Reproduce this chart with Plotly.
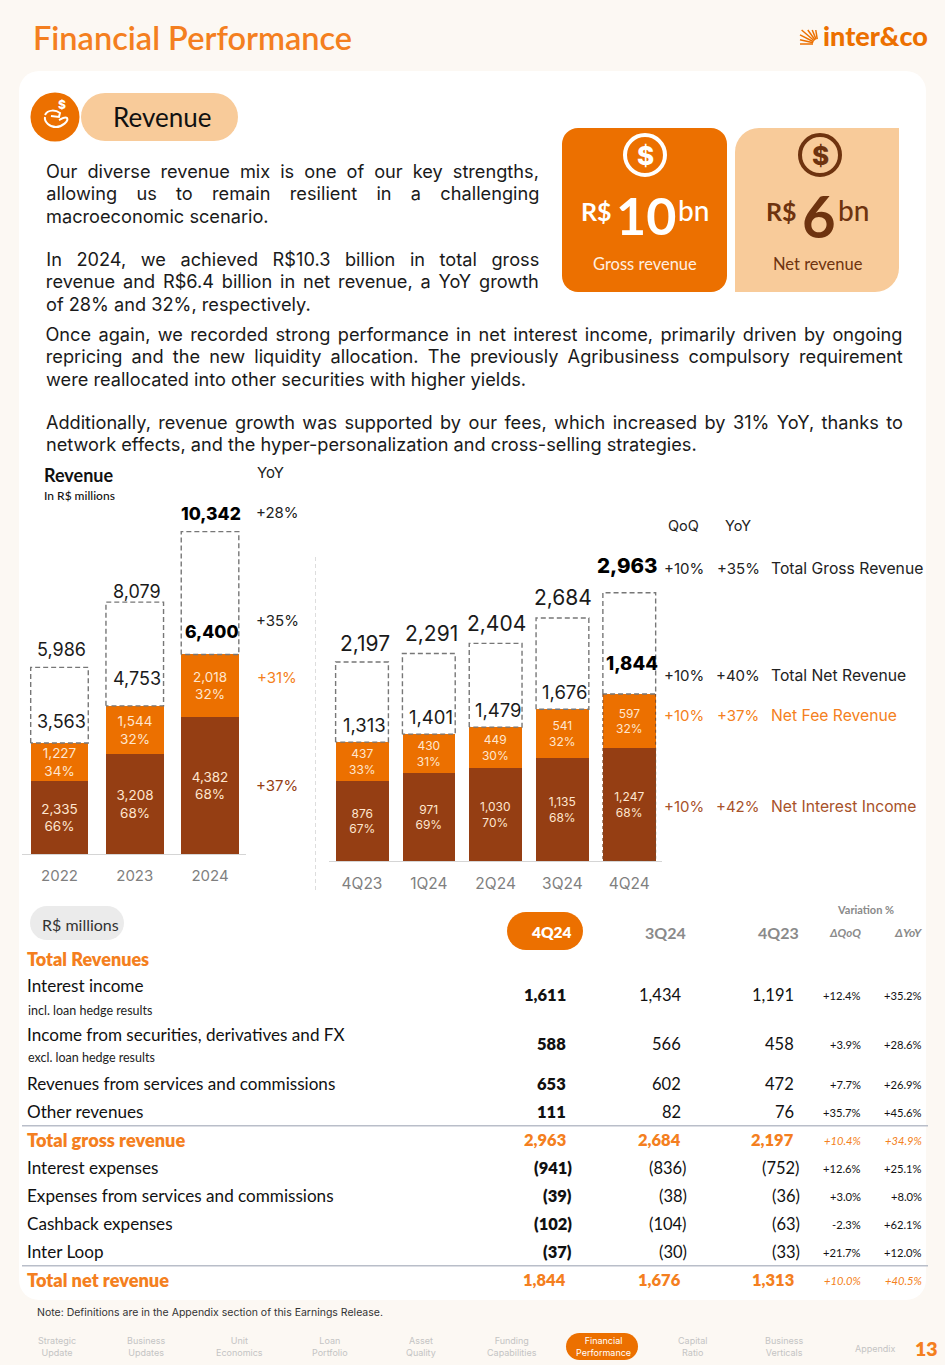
import math
import json
import plotly.graph_objects as go

W, H = 945, 1365
BG = "#FCF8F3"
ORANGE = "#EC7000"
ORANGE_TXT = "#F47F20"
BROWN = "#953E13"
PEACH = "#F8CB9A"
DARK = "#111111"
GREY = "#7F7F7F"
INNER = "#FFE6CF"
SANS = "Inter"
ROUND = "Lato"

# ---- annual chart data
years = ["2022", "2023", "2024"]
y_interest = [2335, 3208, 4382]
y_fee = [1227, 1544, 2018]
y_net = [3563, 4753, 6400]
y_gross = [5986, 8079, 10342]
y_interest_pct = ["66%", "68%", "68%"]
y_fee_pct = ["34%", "32%", "32%"]
y_yoy = ["+28%", "+35%", "+31%", "+37%"]

# ---- quarterly chart data
quarters = ["4Q23", "1Q24", "2Q24", "3Q24", "4Q24"]
q_interest = [876, 971, 1030, 1135, 1247]
q_fee = [437, 430, 449, 541, 597]
q_net = [1313, 1401, 1479, 1676, 1844]
q_gross = [2197, 2291, 2404, 2684, 2963]
q_interest_pct = ["67%", "69%", "70%", "68%", "68%"]
q_fee_pct = ["33%", "31%", "30%", "32%", "32%"]
q_names = ["Total Gross Revenue", "Total Net Revenue", "Net Fee Revenue", "Net Interest Income"]
q_qoq = ["+10%", "+10%", "+10%", "+10%"]
q_yoy = ["+35%", "+40%", "+37%", "+42%"]

# ---- table data
t_labels = ["Interest income", "Income from securities, derivatives and FX",
            "Revenues from services and commissions", "Other revenues", "Total gross revenue",
            "Interest expenses", "Expenses from services and commissions", "Cashback expenses",
            "Inter Loop", "Total net revenue"]
t_4q24 = ["1,611", "588", "653", "111", "2,963", "(941)", "(39)", "(102)", "(37)", "1,844"]
t_3q24 = ["1,434", "566", "602", "82", "2,684", "(836)", "(38)", "(104)", "(30)", "1,676"]
t_4q23 = ["1,191", "458", "472", "76", "2,197", "(752)", "(36)", "(63)", "(33)", "1,313"]
t_qoq = ["+12.4%", "+3.9%", "+7.7%", "+35.7%", "+10.4%", "+12.6%", "+3.0%", "-2.3%", "+21.7%", "+10.0%"]
t_yoy = ["+35.2%", "+28.6%", "+26.9%", "+45.6%", "+34.9%", "+25.1%", "+8.0%", "+62.1%", "+12.0%", "+40.5%"]

nav_items = ["Strategic<br>Update", "Business<br>Updates", "Unit<br>Economics", "Loan<br>Portfolio",
             "Asset<br>Quality", "Funding<br>Capabilities", "Financial<br>Performance",
             "Capital<br>Ratio", "Business<br>Verticals"]

intro_lines = [
    ("Our diverse revenue mix is one of our key strengths,", True),
    ("allowing us to remain resilient in a challenging", True),
    ("macroeconomic scenario.", False),
    ("In 2024, we achieved R$10.3 billion in total gross", True),
    ("revenue and R$6.4 billion in net revenue, a YoY growth", True),
    ("of 28% and 32%, respectively.", False),
]
body_lines = [
    ("Once again, we recorded strong performance in net interest income, primarily driven by ongoing", True),
    ("repricing and the new liquidity allocation. The previously Agribusiness compulsory requirement", True),
    ("were reallocated into other securities with higher yields.", False),
    ("Additionally, revenue growth was supported by our fees, which increased by 31% YoY, thanks to", True),
    ("network effects, and the hyper-personalization and cross-selling strategies.", False),
]

# ---- helpers
def px(x): return x / W
def py(y): return 1 - y / H

annotations, shapes = [], []

def T(x, y, text, size=14, color=DARK, anchor="center", family=SANS, weight=None, yanchor="middle"):
    f = dict(size=size, color=color, family=family)
    if weight:
        f["weight"] = weight
    annotations.append(dict(xref="paper", yref="paper", x=px(x), y=py(y), text=text, showarrow=False,
                            xanchor=anchor, yanchor=yanchor, font=f, borderpad=0, borderwidth=0))

def rrect(x0, y0, x1, y1, r, fill, radii=None, layer="below"):
    tl, tr, br, bl = radii if radii else (r, r, r, r)
    def X(v): return px(v)
    def Y(v): return py(v)
    def arc(cx, cy, rad, a0, a1):
        pts = []
        for k in range(1, 9):
            a = math.radians(a0 + (a1 - a0) * k / 8)
            pts.append(f"L{X(cx + rad * math.cos(a)):.5f},{Y(cy + rad * math.sin(a)):.5f}")
        return " ".join(pts)
    d = f"M{X(x0 + tl):.5f},{Y(y0):.5f} L{X(x1 - tr):.5f},{Y(y0):.5f} "
    d += arc(x1 - tr, y0 + tr, tr, -90, 0) if tr else ""
    d += f" L{X(x1):.5f},{Y(y1 - br):.5f} "
    d += arc(x1 - br, y1 - br, br, 0, 90) if br else ""
    d += f" L{X(x0 + bl):.5f},{Y(y1):.5f} "
    d += arc(x0 + bl, y1 - bl, bl, 90, 180) if bl else ""
    d += f" L{X(x0):.5f},{Y(y0 + tl):.5f} "
    d += arc(x0 + tl, y0 + tl, tl, 180, 270) if tl else ""
    d += " Z"
    shapes.append(dict(type="path", xref="paper", yref="paper", path=d, fillcolor=fill,
                       line=dict(width=0), layer=layer))

def circle(cx, cy, r, fill=None, line=None, lw=0):
    shapes.append(dict(type="circle", xref="paper", yref="paper", x0=px(cx - r), x1=px(cx + r),
                       y0=py(cy + r), y1=py(cy - r), fillcolor=fill or "rgba(0,0,0,0)",
                       line=dict(color=line or "rgba(0,0,0,0)", width=lw), layer="below"))

def hline(x0, x1, y, color, width=1.5, dash="solid"):
    shapes.append(dict(type="line", xref="paper", yref="paper", x0=px(x0), x1=px(x1), y0=py(y), y1=py(y),
                       line=dict(color=color, width=width, dash=dash), layer="below"))

# ---- page furniture
rrect(19, 71, 926, 1300, 20, "#FFFFFF")
T(33, 37, "Financial Performance", 32.5, ORANGE_TXT, "left", ROUND, 600)

# logo
for k in range(7):
    a = math.radians(180 - k * 13.5)
    c, s = math.cos(a), math.sin(a)
    L = min(18 / max(abs(c), 1e-6), 14 / max(abs(s), 1e-6))
    shapes.append(dict(type="line", xref="paper", yref="paper", x0=px(818 + 5 * c), y0=py(44 - 5 * s),
                       x1=px(818 + L * c), y1=py(44 - L * s),
                       line=dict(color=ORANGE, width=1.5), layer="below"))
T(928, 35, "inter&amp;co", 27, ORANGE, "right", ROUND, 900)

# revenue pill
circle(55, 117, 24.5, ORANGE)
rrect(81, 93, 238, 141, 24, PEACH)
T(162, 117, "Revenue", 26, DARK, "center", ROUND, 400)
T(62, 105, "$", 12, "#FFFFFF", "center", SANS, 800)
hand = ("M45,115 C48,109 56,110 60,113 L59,117 L51,116 M45,117 C44,122 50,127 56,127 "
        "C62,127 69,121 67,118 C65,116 61,119 59,120")
def map_path(d):
    toks = d.replace(",", " ").split()
    res, is_x = [], True
    for t in toks:
        cmd = ""
        if t[0].isalpha():
            cmd, t = t[0], t[1:]
        v = float(t)
        res.append(cmd + (f"{px(v):.5f}" if is_x else f"{py(v):.5f}"))
        is_x = not is_x
    return " ".join(res)
shapes.append(dict(type="path", xref="paper", yref="paper", path=map_path(hand),
                   line=dict(color="#FFFFFF", width=2), layer="below"))

# KPI cards
rrect(562, 128, 727, 292, 16, ORANGE)
rrect(735, 128, 899, 292, 0, PEACH, radii=(24, 0, 24, 0))
circle(645, 155, 20, None, "#FFFFFF", 4)
circle(820, 155, 20, None, "#6E330F", 4)
T(645, 155, "$", 26, "#FFFFFF", "center", SANS, 800)
T(820, 155, "$", 26, "#6E330F", "center", SANS, 800)
T(581, 211, "R$", 25, "#FFFFFF", "left", ROUND, 700)
T(646, 215, "10", 52, "#FFFFFF", "center", ROUND, 700)
T(678, 210, "bn", 28, "#FFFFFF", "left", ROUND, 500)
T(766, 211, "R$", 25, "#6E330F", "left", ROUND, 700)
T(819, 215, "6", 58, "#6E330F", "center", ROUND, 700)
T(838, 210, "bn", 28, "#6E330F", "left", ROUND, 500)
T(645, 264.5, "Gross revenue", 16.5, "#FFEFE0", "center", ROUND, 400)
T(817.5, 264.5, "Net revenue", 16.5, "#6E330F", "center", ROUND, 400)

# paragraphs
TXT = 18.2
just_targets = {}
for (txt, j), y in zip(intro_lines, [171, 193.5, 216, 259, 281.5, 304]):
    if j:
        T(292.5, y, txt, TXT, "#1A1A1A", "center")
        just_targets[txt] = 493
    else:
        T(46, y, txt, TXT, "#1A1A1A", "left")
for (txt, j), y in zip(body_lines, [333.5, 356.5, 379, 421.5, 444]):
    if j:
        T(474.5, y, txt, TXT, "#1A1A1A", "center")
        just_targets[txt] = 857
    else:
        T(46, y, txt, TXT, "#1A1A1A", "left")

# ---- charts
Y_TOP_L, Y_BASE_L = 511.1, 854
Y_TOP_R, Y_BASE_R = 562.2, 861
fig = go.Figure()

def stack(x_labels, interest, fee, ipct, fpct, xa, ya, width, size):
    idx = list(range(len(x_labels)))
    fig.add_trace(go.Bar(x=idx, y=interest, xaxis=xa, yaxis=ya, width=width, marker=dict(color=BROWN, line=dict(width=0)),
                         text=[f"{v:,}<br>{p}" for v, p in zip(interest, ipct)], textposition="inside",
                         insidetextanchor="middle", textangle=0, constraintext="none",
                         textfont=dict(size=size, color=INNER, family=SANS), showlegend=False))
    fig.add_trace(go.Bar(x=idx, y=fee, xaxis=xa, yaxis=ya, width=width, marker=dict(color=ORANGE, line=dict(width=0)),
                         text=[f"{v:,}<br>{p}" for v, p in zip(fee, fpct)], textposition="inside",
                         insidetextanchor="middle", textangle=0, constraintext="none",
                         textfont=dict(size=size, color=INNER, family=SANS), showlegend=False))

def dashed(net, gross, xa, ya, width):
    xs, ys = [], []
    for i, (n, g) in enumerate(zip(net, gross)):
        a, b = i - width / 2, i + width / 2
        xs += [a, a, b, b, a, None]
        ys += [n, g, g, n, n, None]
    fig.add_trace(go.Scatter(x=xs, y=ys, xaxis=xa, yaxis=ya, mode="lines", showlegend=False, hoverinfo="skip",
                             line=dict(color="#777777", width=1.4, dash="5px,3px")))

stack(years, y_interest, y_fee, y_interest_pct, y_fee_pct, "x", "y", 0.765, 13.5)
dashed(y_net, y_gross, "x", "y", 0.765)
stack(quarters, q_interest, q_fee, q_interest_pct, q_fee_pct, "x2", "y2", 0.79, 12)
dashed(q_net, q_gross, "x2", "y2", 0.79)
# dashed rim round the latest quarter's net revenue
last = len(quarters) - 1
fig.add_trace(go.Scatter(x=[last - .395, last - .395, last + .395, last + .395],
                         y=[q_net[last], 0, 0, q_net[last]], xaxis="x2", yaxis="y2", mode="lines",
                         showlegend=False, hoverinfo="skip",
                         line=dict(color="#7A4A2A", width=1, dash="3px,3px")))

def lab(i, v, shift, xa, ya, size, bold=False, dx=2.5):
    f = dict(size=size, color="#000000" if bold else "#1A1A1A", family=SANS)
    if bold:
        f["weight"] = 800
    annotations.append(dict(xref=xa, yref=ya, x=i, y=v, text=f"{v:,}", showarrow=False, xanchor="center",
                            yanchor="middle", yshift=shift, xshift=dx, font=f, borderpad=0))

for i, (v, s) in enumerate(zip(y_gross, [17.5, 11, 17.7])):
    lab(i, v, s, "x", "y", 17.5 if i == 2 else 18, bold=(i == 2), dx=1 if i == 2 else 2.5)
for i, (v, s) in enumerate(zip(y_net, [21, 27, 23])):
    lab(i, v, s, "x", "y", 17.5 if i == 2 else 18, bold=(i == 2), dx=2)
for i, (v, s, d) in enumerate(zip(q_gross, [19, 20, 20, 20, 27], [2.5, 2.5, 0.5, 0.5, -2])):
    lab(i, v, s, "x2", "y2", 20.5 if i == 4 else 21, bold=(i == 4), dx=d)
for i, (v, s) in enumerate(zip(q_net, [17, 17, 17, 17, 31])):
    lab(i, v, s, "x2", "y2", 18.5, bold=(i == 4))

T(44, 475, "Revenue", 18, DARK, "left", ROUND, 700)
T(44, 495, "In R$ millions", 12, DARK, "left", ROUND, 500)
T(270, 472, "YoY", 15, "#222222")
for txt, y, c in zip(y_yoy, [512, 621, 677, 786], ["#222222", "#222222", ORANGE_TXT, BROWN]):
    T(277, y, txt, 15, c)

T(683, 525, "QoQ", 14.5, "#222222")
T(738, 525, "YoY", 14.5, "#222222")
colors_r = ["#222222", "#222222", ORANGE_TXT, "#A8522A"]
for nm, a, b, y, c in zip(q_names, q_qoq, q_yoy, [568, 675, 715, 806], colors_r):
    T(684, y, a, 15, c)
    T(738, y, b, 15, c)
    T(771, y, nm, 15.7, c, "left")

shapes.append(dict(type="line", xref="paper", yref="paper", x0=px(315.5), x1=px(315.5), y0=py(557), y1=py(893),
                   line=dict(color="#DDDDDD", width=1, dash="4px,3px"), layer="below"))

# ---- table
rrect(30, 906, 124, 940, 17, "#EBEBEB")
T(80, 924, "R$ millions", 16, "#333333", "center", ROUND, 400)
rrect(507, 912, 583, 950, 19, ORANGE)
T(572, 932, "4Q24", 15.5, "#FFFFFF", "right", ROUND, 800)
T(686, 932, "3Q24", 16, "#8A8A8A", "right", ROUND, 700)
T(799, 932, "4Q23", 16, "#8A8A8A", "right", ROUND, 700)
T(865, 909, "Variation %", 11, "#8A8A8A", "center", ROUND, 700)
T(861, 932, "<i>ΔQoQ</i>", 11.5, "#8A8A8A", "right", ROUND, 700)
T(922, 932, "<i>ΔYoY</i>", 12, "#8A8A8A", "right", ROUND, 700)
T(27, 959, "Total Revenues", 18, ORANGE_TXT, "left", ROUND, 800)
T(28, 1010, "incl. loan hedge results", 12.5, "#222222", "left", ROUND)
T(28, 1057, "excl. loan hedge results", 12.5, "#222222", "left", ROUND)

label_y = [985.5, 1034.5, 1083.5, 1111.5, 1139.5, 1167.5, 1195.5, 1223.5, 1251.5, 1279.5]
value_y = [995, 1044, 1084, 1112, 1140, 1168, 1196, 1224, 1252, 1280]
for i in range(len(t_labels)):
    total = i in (4, 9)
    c = ORANGE_TXT if total else "#111111"
    T(27, label_y[i], t_labels[i], 18.2 if total else 17.1, c, "left", ROUND, 800 if total else 400)
    vy = value_y[i]
    for vals, right, w in ((t_4q24, 566, 800), (t_3q24, 681, 800 if total else 400), (t_4q23, 794, 800 if total else 400)):
        v = vals[i]
        T(right + (5.5 if v.startswith("(") else 0), vy, v, 16.5, c, "right", ROUND, w)
    fmt = "<i>%s</i>" if total else "%s"
    T(861, vy, fmt % t_qoq[i], 11.2, c, "right", ROUND)
    T(922, vy, fmt % t_yoy[i], 11.2, c, "right", ROUND)
hline(22, 928, 1125.7, "#B9BEC9", 1.6)
hline(22, 928, 1265.7, "#B9BEC9", 1.6)

T(37, 1312.5, "Note: Definitions are in the Appendix section of this Earnings Release.", 10.5, "#333333", "left")

# ---- footer nav
rrect(566, 1333, 638, 1360, 13.5, ORANGE)
for txt, x in zip(nav_items, [57, 146, 239, 330, 421, 512, 603, 693, 784]):
    T(x, 1346.5, txt, 9, "#FFFFFF" if "Financial" in txt else "#C4C4C4", "center")
T(875, 1348, "Appendix", 9, "#C4C4C4")
T(926.5, 1348, "13", 19.5, ORANGE_TXT, "center", ROUND, 800)

fig.update_layout(
    width=W, height=H, margin=dict(l=0, r=0, t=0, b=0), autosize=False,
    paper_bgcolor=BG, plot_bgcolor="rgba(0,0,0,0)", barmode="stack", bargap=0, showlegend=False,
    annotations=annotations, shapes=shapes, hovermode=False,
    xaxis=dict(domain=[px(22), px(246)], range=[-0.498, 2.478], tickvals=list(range(3)), ticktext=years,
               showgrid=False, zeroline=False, showline=True, linecolor="#D5D5D5", linewidth=1, ticks="",
               tickfont=dict(size=15, color=GREY, family=SANS), anchor="y", ticklabelstandoff=8, fixedrange=True),
    yaxis=dict(domain=[py(Y_BASE_L), py(Y_TOP_L)], range=[0, 11000], visible=False, anchor="x", fixedrange=True),
    xaxis2=dict(domain=[px(328.8), px(662)], range=[-0.497, 4.49], tickvals=list(range(5)), ticktext=quarters,
                showgrid=False, zeroline=False, showline=True, linecolor="#D5D5D5", linewidth=1, ticks="",
                tickfont=dict(size=15.5, color=GREY, family=SANS), anchor="y2", ticklabelstandoff=8, fixedrange=True),
    yaxis2=dict(domain=[py(Y_BASE_R), py(Y_TOP_R)], range=[0, 3300], visible=False, anchor="x2", fixedrange=True),
)

js = """
document.documentElement.style.background = '%s';
document.body.style.margin = '0';
document.body.style.overflow = 'hidden';
var J = %s;
function justify() {
  document.querySelectorAll('.annotation-text').forEach(function (t) {
    var w = J[t.textContent];
    if (!w) return;
    t.style.wordSpacing = '0px';
    var L = t.getComputedTextLength();
    var n = t.textContent.split(' ').length - 1;
    t.style.wordSpacing = ((w - L) / n) + 'px';
  });
}
justify();
setTimeout(justify, 50);
if (document.fonts && document.fonts.ready) document.fonts.ready.then(justify);
""" % (BG, json.dumps(just_targets))

fig.write_html("out.html", config={"displayModeBar": False, "responsive": False}, post_script=js)
